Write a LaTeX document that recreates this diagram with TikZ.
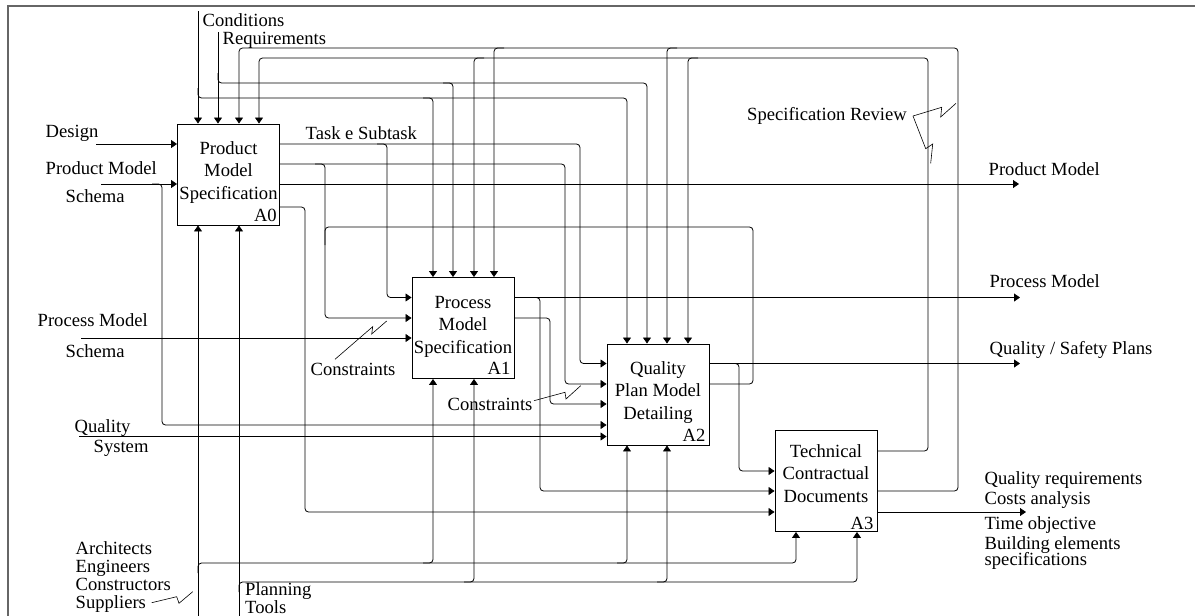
\documentclass[tikz,border=0pt]{standalone}
\usepackage{fontspec}
\setmainfont{Liberation Serif}
\usetikzlibrary{arrows.meta}

\begin{document}
\begin{tikzpicture}[x=1pt,y=-1pt,
  flow/.style={draw=black, line width=0.8pt, rounded corners=3.5pt,
    -{Triangle[length=6pt,width=8pt]}},
  link/.style={draw=black, line width=0.8pt, rounded corners=3.5pt},
  zig/.style={draw=black, line width=0.6pt},
  frame/.style={draw=black!60, line width=1.4pt},
  box/.style={draw=black, line width=0.9pt, minimum width=102pt,
    minimum height=101pt, inner sep=0pt},
  lbl/.style={font=\fontsize{18.6}{18.3}\selectfont, inner sep=0pt},
  btxt/.style={font=\fontsize{18.6}{22.5}\selectfont, inner sep=0pt, anchor=base},
  tag/.style={font=\fontsize{18.6}{22.5}\selectfont, inner sep=0pt, anchor=base east}
]
\useasboundingbox (0,0) rectangle (1195,616);
\draw[frame] (8,616) -- (8,6) -- (1195,6);

% activity boxes
\node[box] (A0) at (228.5,174.5) {};
\node[box] (A1) at (463,328) {};
\node[box] (A2) at (658,394.5) {};
\node[box] (A3) at (826,481) {};

\node[btxt] (A0t) at (228.5,154) {\parbox[t]{110pt}{\centering Product\\Model\\Specification}};
\node[btxt] (A1t) at (463,308.3) {\parbox[t]{110pt}{\centering Process\\Model\\Specification}};
\node[btxt] (A2t) at (658,374.3) {\parbox[t]{110pt}{\centering Quality\\Plan Model\\Detailing}};
\node[btxt] (A3t) at (826,457.3) {\parbox[t]{110pt}{\centering Technical\\Contractual\\[0.5pt]Documents}};
\node[tag] (A0n) at (277,221.7) {A0};
\node[tag] (A1n) at (510.5,374) {A1};
\node[tag] (A2n) at (705.5,441) {A2};
\node[tag] (A3n) at (873.5,529) {A3};

% free ends of the boundary arrows
\coordinate (design) at (96,144);
\coordinate (pmschema) at (101,184);
\coordinate (prschema) at (81,338);
\coordinate (qsys) at (79,436.5);
\coordinate (cond) at (198,11);
\coordinate (req) at (218,32);
\coordinate (mechP) at (198,616);
\coordinate (mechT) at (239,616);
\coordinate (outPM) at (1019,184);
\coordinate (outPr) at (1020,297.5);
\coordinate (outQS) at (1020,363.5);
\coordinate (outTC) at (1026,512);

% inputs
\draw[flow] (design) -- (design -| A0.west);
\draw[flow] (pmschema) -- (pmschema -| A0.west);
\draw[flow] (152,184) -- (162,184) -- (162,425) -- (162,425 -| A2.west);
\draw[flow] (prschema) -- (prschema -| A1.west);
\draw[flow] (qsys) -- (qsys -| A2.west);

% controls
\draw[flow] (cond) -- (cond |- A0.north);
\draw[flow] (198,88) -- (198,98) -- (627,98) -- (627,98 |- A2.north);
\draw[flow] (423,98) -- (433,98) -- (433,98 |- A1.north);
\draw[flow] (req) -- (req |- A0.north);
\draw[flow] (218,73) -- (218,83) -- (647,83) -- (647,83 |- A2.north);
\draw[flow] (443,83) -- (453,83) -- (453,83 |- A1.north);

% mechanisms
\draw[flow] (mechP) -- (mechP |- A0.south);
\draw[flow] (198,573) -- (198,563) -- (796,563) -- (796,563 |- A3.south);
\draw[flow] (423,563) -- (433,563) -- (433,563 |- A1.south);
\draw[flow] (617,563) -- (627,563) -- (627,563 |- A2.south);
\draw[flow] (mechT) -- (mechT |- A0.south);
\draw[flow] (239,592) -- (239,582) -- (857,582) -- (857,582 |- A3.south);
\draw[flow] (464,582) -- (474,582) -- (474,582 |- A1.south);
\draw[flow] (657,582) -- (667,582) -- (667,582 |- A2.south);

% outputs of A0
\draw[flow] (A0.east |- 0,144) -- (580,144) -- (580,363.5) -- (580,363.5 -| A2.west);
\draw[flow] (377,144) -- (387,144) -- (387,297.5) -- (387,297.5 -| A1.west);
\draw[flow] (A0.east |- 0,164) -- (565,164) -- (565,384) -- (565,384 -| A2.west);
\draw[flow] (315,164) -- (325,164) -- (325,318) -- (325,318 -| A1.west);
\draw[flow] (A0.east |- 0,184) -- (outPM);
\draw[flow] (A0.east |- 0,207) -- (305,207) -- (305,512) -- (305,512 -| A3.west);

% outputs of A1
\draw[flow] (A1.east |- 0,297.5) -- (outPr);
\draw[flow] (530,297.5) -- (540,297.5) -- (540,491) -- (540,491 -| A3.west);
\draw[flow] (A1.east |- 0,318) -- (550,318) -- (550,404) -- (550,404 -| A2.west);

% outputs of A2
\draw[flow] (A2.east |- 0,363.5) -- (outQS);
\draw[flow] (729,363.5) -- (739,363.5) -- (739,471) -- (739,471 -| A3.west);
\draw[link] (A2.east |- 0,384) -- (753,384) -- (753,227) -- (325,227) -- (325,245);

% outputs of A3 (feedback to the controls)
\draw[flow] (A3.east |- 0,451) -- (928,451) -- (928,58) -- (259,58) -- (259,58 |- A0.north);
\draw[flow] (484,58) -- (474,58) -- (474,58 |- A1.north);
\draw[flow] (698,58) -- (688,58) -- (688,58 |- A2.north);
\draw[flow] (A3.east |- 0,491) -- (958,491) -- (958,48) -- (239,48) -- (239,48 |- A0.north);
\draw[flow] (504,48) -- (494,48) -- (494,48 |- A1.north);
\draw[flow] (677,48) -- (667,48) -- (667,48 |- A2.north);
\draw[flow] (A3.east |- 0,512) -- (outTC);

% arrow labels
\node[lbl, anchor=base west] (lCond) at (202.5,26) {Conditions};
\node[lbl, anchor=base west] (lReq) at (222.5,44) {Requirements};
\node[lbl, anchor=base west] (lDesign) at (45.5,137) {Design};
\node[lbl, anchor=base west] (lPM1) at (45.5,174) {Product Model};
\node[lbl, anchor=base west] (lPM2) at (65.5,202) {Schema};
\node[lbl, anchor=base west] (lTask) at (305.5,139.5) {Task e Subtask};
\node[lbl, anchor=base east] (lSpec) at (907,120.7) {Specification Review};
\node[lbl, anchor=base west] (lOutPM) at (988.5,175) {Product Model};
\node[lbl, anchor=base west] (lOutPr) at (989.5,287.3) {Process Model};
\node[lbl, anchor=base west] (lOutQS) at (989.5,354) {Quality / Safety Plans};
\node[lbl, anchor=base west] (lPr1) at (37.5,326) {Process Model};
\node[lbl, anchor=base west] (lPr2) at (65.5,357) {Schema};
\node[lbl, anchor=base west] (lCon1) at (310.5,375.7) {Constraints};
\node[lbl, anchor=base west] (lCon2) at (447.5,410) {Constraints};
\node[lbl, anchor=base west] (lQ1) at (74.5,432) {Quality};
\node[lbl, anchor=base west] (lQ2) at (93.5,452.3) {System};
\node[lbl, anchor=base west] (lWho) at (75.5,554) {\parbox[t]{120pt}{\raggedright Architects\\Engineers\\Constructors\\Suppliers}};
\node[lbl, anchor=base west] (lTools) at (245,595.5) {\fontsize{18.6}{17.5}\selectfont\parbox[t]{80pt}{\raggedright Planning\\Tools}};
\node[lbl, anchor=base west] (lDocs) at (984.5,484.3) {\fontsize{18.6}{20}\selectfont\parbox[t]{200pt}{\raggedright Quality requirements\\Costs analysis\\[4.7pt]Time objective\\Building elements\\[-3.3pt]specifications}};

% lightning marks tying labels to their arrows
\draw[zig] (913,116) -- (941.7,107.3) -- (940.7,117) -- (956,103.3);
\draw[zig] (913,116) -- (925.7,148.7) -- (932.7,144) -- (930.7,163.3);
\draw[zig] (335,359.3) -- (372.7,326.7) -- (371.7,334) -- (386.7,321);
\draw[zig] (534,400.7) -- (565,392.3) -- (566,399) -- (580.7,385.7);
\draw[zig] (151.7,602.7) -- (176.7,596.7) -- (179,603.3) -- (192.7,591.7);
\end{tikzpicture}
\end{document}
